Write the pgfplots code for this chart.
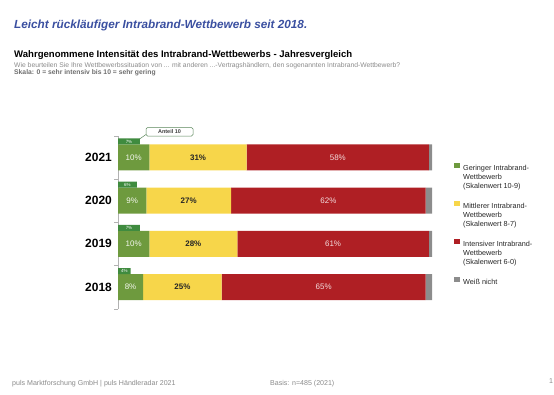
\documentclass[border=0pt]{standalone}
\usepackage{pgfplots}
\pgfplotsset{compat=1.18}
\usepackage{fontspec}
\setmainfont{Liberation Sans}
\definecolor{gmain}{HTML}{6E9A3E}
\definecolor{gdark}{HTML}{3F8B3F}
\definecolor{ylw}{HTML}{F7D64A}
\definecolor{rd}{HTML}{AF1F24}
\definecolor{gry}{HTML}{8C8C8C}
\definecolor{tblue}{HTML}{3A4FA0}
\definecolor{qgray}{HTML}{8A8A8A}
\definecolor{sgray}{HTML}{6E6E6E}
\pgfplotsset{
  common/.style={at={(118bp,-308.6bp)}, anchor=south west, scale only axis,
    width=314bp, height=172.7bp, xmin=0, xmax=100, ymin=-0.5, ymax=3.5},
  lbl/.style={draw=none, mark=none, nodes near coords={\pgfplotspointmeta\%}, point meta=explicit symbolic,
    every node near coord/.style={anchor=center, inner sep=0pt, #1}}
}
\begin{document}
\begin{tikzpicture}
\useasboundingbox (0,0) rectangle (554bp,-395bp);
\node[anchor=base west, inner sep=0, font=\fontsize{11.8}{14}\selectfont\bfseries\itshape, text=tblue] at (14bp,-28.5bp) {Leicht rückläufiger Intrabrand-Wettbewerb seit 2018.};
\node[anchor=base west, inner sep=0, font=\fontsize{9.6}{11}\selectfont\bfseries] at (14bp,-57bp) {Wahrgenommene Intensität des Intrabrand-Wettbewerbs - Jahresvergleich};
\node[anchor=base west, inner sep=0, font=\fontsize{6.8}{7}\selectfont, text=qgray] at (14bp,-67.5bp) {Wie beurteilen Sie Ihre Wettbewerbssituation von ... mit anderen ...-Vertragshändlern, den sogenannten Intrabrand-Wettbewerb?};
\node[anchor=base west, inner sep=0, font=\fontsize{6.8}{7}\selectfont\bfseries, text=sgray] at (14bp,-74.5bp) {Skala: 0 = sehr intensiv bis 10 = sehr gering};
\node[anchor=base west, inner sep=0, font=\fontsize{7.1}{8}\selectfont, text=qgray] at (12bp,-385bp) {puls Marktforschung GmbH | puls Händleradar 2021};
\node[anchor=base west, inner sep=0, font=\fontsize{7.1}{8}\selectfont, text=qgray] at (270bp,-385bp) {Basis: n=485 (2021)};
\node[anchor=base west, inner sep=0, font=\fontsize{7.1}{8}\selectfont, text=qgray] at (549bp,-383bp) {1};

\begin{axis}[common, xbar stacked, bar width=26bp,
  axis x line=none, axis y line*=left, tick align=outside,
  axis line style={gray!60}, 
  ytick={0,1,2,3}, yticklabels={2018,2019,2020,2021}, major tick length=0pt,
  minor ytick={-0.5,0.5,1.5,2.5,3.5}, minor tick length=4bp,
  minor tick style={gray!60},
  yticklabel style={font=\fontsize{12}{14}\selectfont\bfseries, inner sep=0pt, xshift=-6bp},
  legend style={draw=none, fill=none, at={(1.0701,0.8466)}, anchor=north west,
    font=\fontsize{7.3}{9}\selectfont, inner sep=0pt, row sep=29bp, column sep=3.5bp,
    nodes={inner sep=0pt, text=black!85}},
  legend cell align=left,
  legend image code/.code={\fill[#1] (0bp,-0.3bp) rectangle (5.5bp,5.2bp);},
]
\addplot[fill=gmain, draw=none] coordinates {(8,0) (10,1) (9,2) (10,3)};
\addlegendentry{\begin{tabular}[t]{@{}l@{}}Geringer Intrabrand-\\Wettbewerb\\(Skalenwert 10-9)\end{tabular}}
\addplot[fill=ylw, draw=none] coordinates {(25,0) (28,1) (27,2) (31,3)};
\addlegendentry{\begin{tabular}[t]{@{}l@{}}Mittlerer Intrabrand-\\Wettbewerb\\(Skalenwert 8-7)\end{tabular}}
\addplot[fill=rd, draw=none] coordinates {(65,0) (61,1) (62,2) (58,3)};
\addlegendentry{\begin{tabular}[t]{@{}l@{}}Intensiver Intrabrand-\\Wettbewerb\\(Skalenwert 6-0)\end{tabular}}
\addplot[fill=gry, draw=none] coordinates {(2,0) (1,1) (2,2) (1,3)};
\addlegendentry{\begin{tabular}[t]{@{}l@{}}Weiß nicht\end{tabular}}
\end{axis}

\begin{axis}[common, hide axis, xbar, bar width=6bp, bar shift=16bp]
\addplot[fill=gdark, draw=none] coordinates {(4,0) (7,1) (6,2) (7,3)};
\end{axis}

\begin{axis}[common, hide axis]
\addplot[lbl={font=\fontsize{8}{9}\selectfont, text=white!92!gmain}] table[meta=l] {
x y l
4 0 8
5 1 10
4.5 2 9
5 3 10
};
\addplot[lbl={font=\fontsize{8}{9}\selectfont\bfseries, text=black!85}] table[meta=l] {
x y l
20.5 0 25
24 1 28
22.5 2 27
25.5 3 31
};
\addplot[lbl={font=\fontsize{8}{9}\selectfont, text=white!85!rd}] table[meta=l] {
x y l
65.5 0 65
68.5 1 61
67 2 62
70 3 58
};
\addplot[lbl={font=\fontsize{4.5}{5}\selectfont, text=white, yshift=16bp}] table[meta=l] {
x y l
2 0 4
3.5 1 7
3 2 6
3.5 3 7
};
\end{axis}

\draw[gdark!60!gray, line width=0.5bp] (146bp,-134.5bp) -- (139.5bp,-139bp);
\node[draw=gdark!60!gray, line width=0.5bp, fill=white, rounded corners=1.5bp, inner sep=0pt,
  minimum width=47bp, minimum height=8.5bp, font=\fontsize{5.5}{6}\selectfont\bfseries, text=black!75]
  at (169.5bp,-131.8bp) {Anteil 10};
\end{tikzpicture}
\end{document}
